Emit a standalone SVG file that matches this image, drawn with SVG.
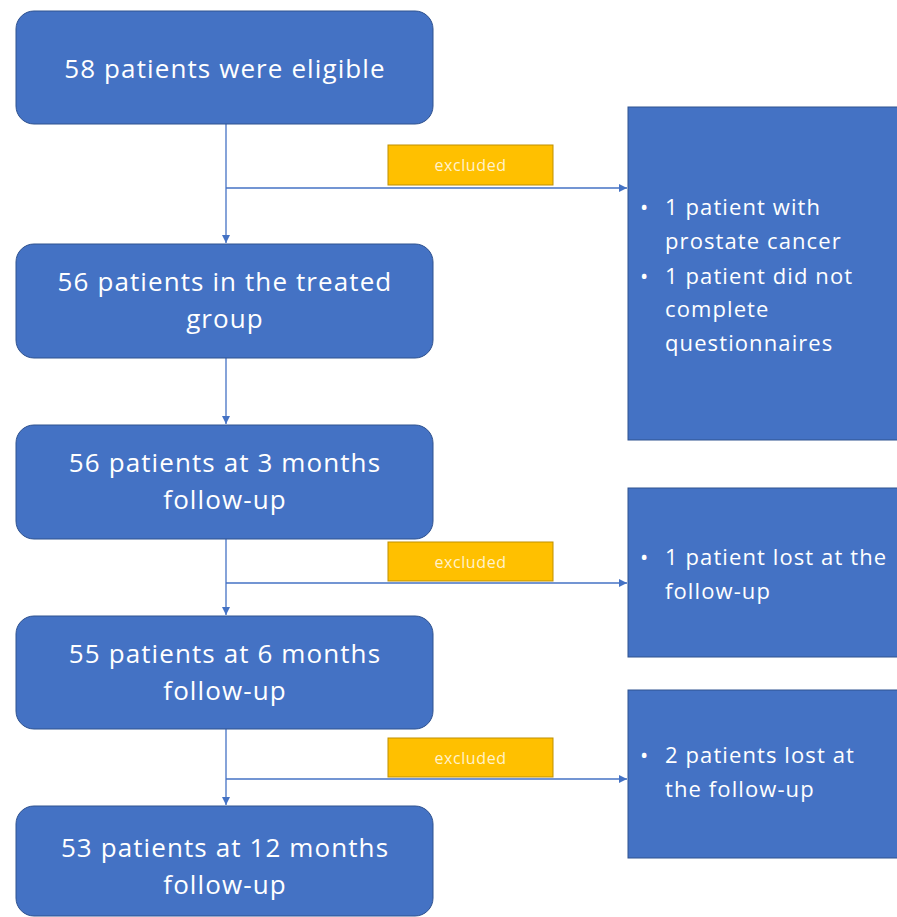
<svg xmlns="http://www.w3.org/2000/svg" width="897" height="917" viewBox="0 0 897 917">
<defs>
<style>
.main{fill:#4472C4;stroke:#2F528F;stroke-width:1}
.side{fill:#4472C4;stroke:#2F528F;stroke-width:1}
.exc{fill:#FFC000;stroke:#BF9000;stroke-width:1}
.t{font-family:"Open Sans","Liberation Sans",sans-serif;fill:#FFFFFF;font-size:26px;letter-spacing:1.1px;text-anchor:middle}
.s{font-family:"Open Sans","Liberation Sans",sans-serif;fill:#FFFFFF;font-size:22px;letter-spacing:1.1px}
.e{font-family:"Open Sans","Liberation Sans",sans-serif;fill:#FFF2CC;font-size:16px;letter-spacing:0.6px;text-anchor:middle}
.ln{stroke:#4472C4;stroke-width:1.3;fill:none}
</style>
<marker id="ah" viewBox="0 0 10 10" refX="10" refY="5" markerWidth="8" markerHeight="8" markerUnits="userSpaceOnUse" orient="auto">
<path d="M0,0 L10,5 L0,10 z" fill="#4472C4"/>
</marker>
</defs>
<rect width="897" height="917" fill="#FFFFFF"/>
<g id="connectors">
<line class="ln" x1="226" y1="124" x2="226" y2="243" marker-end="url(#ah)"/>
<line class="ln" x1="226" y1="188" x2="627" y2="188" marker-end="url(#ah)"/>
<line class="ln" x1="226" y1="358" x2="226" y2="424" marker-end="url(#ah)"/>
<line class="ln" x1="226" y1="539" x2="226" y2="615" marker-end="url(#ah)"/>
<line class="ln" x1="226" y1="583" x2="627" y2="583" marker-end="url(#ah)"/>
<line class="ln" x1="226" y1="729" x2="226" y2="805" marker-end="url(#ah)"/>
<line class="ln" x1="226" y1="779" x2="627" y2="779" marker-end="url(#ah)"/>
</g>
<g id="n1">
<rect class="main" x="16" y="11" width="417" height="113" rx="18"/>
<text class="t" x="225" y="78">58 patients were eligible</text>
</g>
<g id="n2">
<rect class="main" x="16" y="244" width="417" height="114" rx="18"/>
<text class="t" x="225" y="291">56 patients in the treated</text>
<text class="t" x="225" y="328">group</text>
</g>
<g id="n3">
<rect class="main" x="16" y="425" width="417" height="114" rx="18"/>
<text class="t" x="225" y="472">56 patients at 3 months</text>
<text class="t" x="225" y="509">follow-up</text>
</g>
<g id="n4">
<rect class="main" x="16" y="616" width="417" height="113" rx="18"/>
<text class="t" x="225" y="663">55 patients at 6 months</text>
<text class="t" x="225" y="700">follow-up</text>
</g>
<g id="n5">
<rect class="main" x="16" y="806" width="417" height="110" rx="18"/>
<text class="t" x="225" y="857">53 patients at 12 months</text>
<text class="t" x="225" y="894">follow-up</text>
</g>
<g id="x1">
<rect class="exc" x="388" y="145" width="165" height="40"/>
<text class="e" x="470.5" y="171">excluded</text>
</g>
<g id="x2">
<rect class="exc" x="388" y="542" width="165" height="39"/>
<text class="e" x="470.5" y="568">excluded</text>
</g>
<g id="x3">
<rect class="exc" x="388" y="738" width="165" height="39"/>
<text class="e" x="470.5" y="764">excluded</text>
</g>
<g id="r1">
<rect class="side" x="628" y="107" width="270" height="333"/>
<text class="s" x="640" y="215">•</text>
<text class="s" x="665" y="215">1 patient with</text>
<text class="s" x="665" y="249">prostate cancer</text>
<text class="s" x="640" y="284">•</text>
<text class="s" x="665" y="284">1 patient did not</text>
<text class="s" x="665" y="317">complete</text>
<text class="s" x="665" y="351">questionnaires</text>
</g>
<g id="r2">
<rect class="side" x="628" y="488" width="270" height="169"/>
<text class="s" x="640" y="565">•</text>
<text class="s" x="665" y="565">1 patient lost at the</text>
<text class="s" x="665" y="599">follow-up</text>
</g>
<g id="r3">
<rect class="side" x="628" y="690" width="270" height="168"/>
<text class="s" x="640" y="763">•</text>
<text class="s" x="665" y="763">2 patients lost at</text>
<text class="s" x="665" y="797">the follow-up</text>
</g>
</svg>
